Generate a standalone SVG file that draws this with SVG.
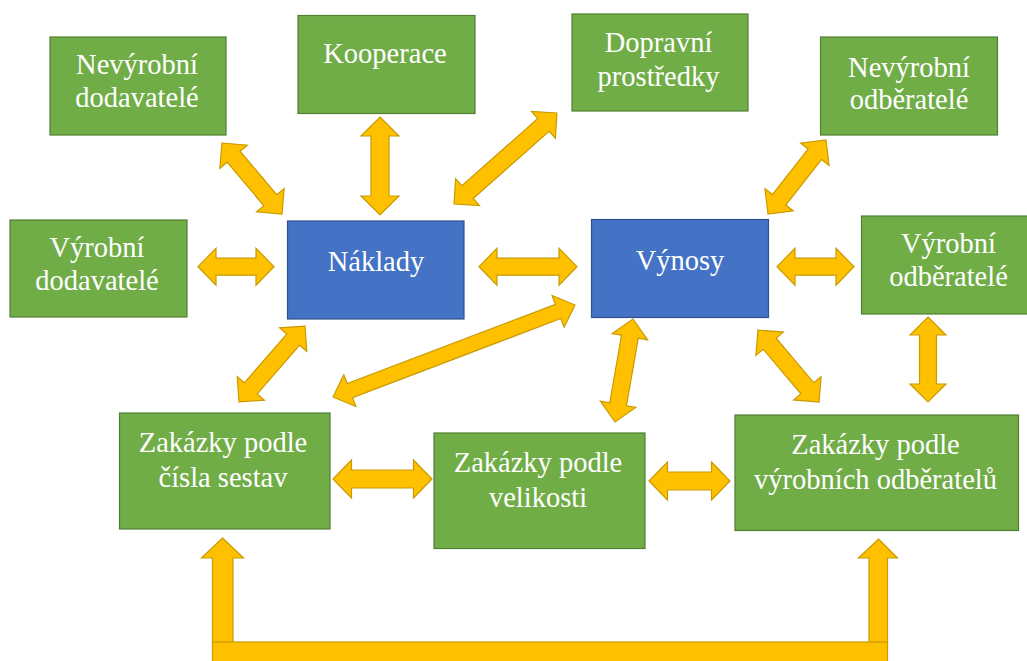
<svg xmlns="http://www.w3.org/2000/svg" width="1027" height="661" viewBox="0 0 1027 661">
  <style>
    .green { fill: #70AD47; stroke: #507E32; stroke-width: 1.2; }
    .blue { fill: #4472C4; stroke: #2F528F; stroke-width: 1.2; }
    .lbl { font-size: 28.5px; fill: #FFFFFF; text-anchor: middle; }
    .arr { fill: #FFC000; stroke: #C89B00; stroke-width: 1.2; stroke-linejoin: miter; }
  </style>
  <rect width="1027" height="661" fill="#FFFFFF"/>

  <!-- connectors: block double arrows -->
  <g id="connectors">
    <!-- Nevýrobní dodavatelé - Náklady -->
    <path class="arr" transform="translate(252,178.5) rotate(49.8)" d="M -46.5 0 L -28.5 -18 L -28.5 -8.5 L 28.5 -8.5 L 28.5 -18 L 46.5 0 L 28.5 18 L 28.5 8.5 L -28.5 8.5 L -28.5 18 Z"/>
    <!-- Výrobní dodavatelé - Náklady -->
    <path class="arr" transform="translate(236,266.7)" d="M -38 0 L -20 -18.5 L -20 -8.5 L 20 -8.5 L 20 -18.5 L 38 0 L 20 18.5 L 20 8.5 L -20 8.5 L -20 18.5 Z"/>
    <!-- Kooperace - Náklady -->
    <path class="arr" transform="translate(380,166) rotate(90)" d="M -49 0 L -30 -19 L -30 -9 L 30 -9 L 30 -19 L 49 0 L 30 19 L 30 9 L -30 9 L -30 19 Z"/>
    <!-- Dopravní prostředky - Náklady -->
    <path class="arr" transform="translate(505.5,158.5) rotate(-41.5)" d="M -68.7 0 L -50.7 -18 L -50.7 -8.5 L 50.7 -8.5 L 50.7 -18 L 68.7 0 L 50.7 18 L 50.7 8.5 L -50.7 8.5 L -50.7 18 Z"/>
    <!-- Náklady - Výnosy -->
    <path class="arr" transform="translate(528,266.7)" d="M -49 0 L -31 -18.5 L -31 -8.5 L 31 -8.5 L 31 -18.5 L 49 0 L 31 18.5 L 31 8.5 L -31 8.5 L -31 18.5 Z"/>
    <!-- Výnosy - Nevýrobní odběratelé -->
    <path class="arr" transform="translate(797,177) rotate(-51.9)" d="M -47 0 L -29 -18 L -29 -8.5 L 29 -8.5 L 29 -18 L 47 0 L 29 18 L 29 8.5 L -29 8.5 L -29 18 Z"/>
    <!-- Výnosy - Výrobní odběratelé -->
    <path class="arr" transform="translate(815.5,266.7)" d="M -38.5 0 L -20.5 -18.5 L -20.5 -8.5 L 20.5 -8.5 L 20.5 -18.5 L 38.5 0 L 20.5 18.5 L 20.5 8.5 L -20.5 8.5 L -20.5 18.5 Z"/>
    <!-- Náklady - Zakázky podle čísla sestav -->
    <path class="arr" transform="translate(272,364) rotate(-49)" d="M -50.3 0 L -32.3 -18 L -32.3 -8.5 L 32.3 -8.5 L 32.3 -18 L 50.3 0 L 32.3 18 L 32.3 8.5 L -32.3 8.5 L -32.3 18 Z"/>
    <!-- Výnosy - Zakázky podle čísla sestav -->
    <path class="arr" transform="translate(454,351) rotate(-20.8)" d="M -129.4 0 L -111.4 -17 L -111.4 -7.5 L 111.4 -7.5 L 111.4 -17 L 129.4 0 L 111.4 17 L 111.4 7.5 L -111.4 7.5 L -111.4 17 Z"/>
    <!-- Výnosy - Zakázky podle velikosti -->
    <path class="arr" transform="translate(624,370.5) rotate(-80.1)" d="M -52.3 0 L -34.3 -18 L -34.3 -8.5 L 34.3 -8.5 L 34.3 -18 L 52.3 0 L 34.3 18 L 34.3 8.5 L -34.3 8.5 L -34.3 18 Z"/>
    <!-- Výnosy - Zakázky podle výrobních odběratelů -->
    <path class="arr" transform="translate(788.5,366) rotate(49.7)" d="M -47.2 0 L -29.2 -18 L -29.2 -8.5 L 29.2 -8.5 L 29.2 -18 L 47.2 0 L 29.2 18 L 29.2 8.5 L -29.2 8.5 L -29.2 18 Z"/>
    <!-- Výrobní odběratelé - Zakázky podle výrobních odběratelů -->
    <path class="arr" transform="translate(928,359.5) rotate(90)" d="M -42.5 0 L -24.5 -18 L -24.5 -8.5 L 24.5 -8.5 L 24.5 -18 L 42.5 0 L 24.5 18 L 24.5 8.5 L -24.5 8.5 L -24.5 18 Z"/>
    <!-- Zakázky podle čísla sestav - Zakázky podle velikosti -->
    <path class="arr" transform="translate(382.5,479)" d="M -49.5 0 L -31 -19 L -31 -9 L 31 -9 L 31 -19 L 49.5 0 L 31 19 L 31 9 L -31 9 L -31 19 Z"/>
    <!-- Zakázky podle velikosti - Zakázky podle výrobních odběratelů -->
    <path class="arr" transform="translate(689.5,481)" d="M -40.5 0 L -22 -19 L -22 -9 L 22 -9 L 22 -19 L 40.5 0 L 22 19 L 22 9 L -22 9 L -22 19 Z"/>
    <!-- bottom loop: two up arrows joined by a bar -->
    <path class="arr" d="M 222.5 538 L 243.5 558 L 233 558 L 233 645 L 212.5 645 L 212.5 558 L 201.5 558 Z"/>
    <path class="arr" d="M 878.5 539 L 897.5 558 L 887.5 558 L 887.5 645 L 869 645 L 869 558 L 858.5 558 Z"/>
    <rect class="arr" x="212.5" y="642" width="675" height="30"/>
  </g>

  <g id="nevyrobni-dodavatele">
    <rect class="green" x="50" y="37" width="176" height="98"/>
    <text class="lbl" font-family="Times New Roman" x="137" y="74">Nevýrobní</text>
    <text class="lbl" font-family="Times New Roman" x="137" y="107">dodavatelé</text>
  </g>
  <g id="kooperace">
    <rect class="green" x="298" y="15.5" width="177" height="98"/>
    <text class="lbl" font-family="Times New Roman" x="385" y="63">Kooperace</text>
  </g>
  <g id="dopravni-prostredky">
    <rect class="green" x="572" y="14" width="176" height="97"/>
    <text class="lbl" font-family="Times New Roman" x="658.5" y="51.5">Dopravní</text>
    <text class="lbl" font-family="Times New Roman" x="658.5" y="86">prostředky</text>
  </g>
  <g id="nevyrobni-odberatele">
    <rect class="green" x="820.5" y="37" width="177" height="98"/>
    <text class="lbl" font-family="Times New Roman" x="909" y="76.5">Nevýrobní</text>
    <text class="lbl" font-family="Times New Roman" x="909" y="109">odběratelé</text>
  </g>
  <g id="vyrobni-dodavatele">
    <rect class="green" x="10" y="220" width="177" height="97"/>
    <text class="lbl" font-family="Times New Roman" x="97" y="256.5">Výrobní</text>
    <text class="lbl" font-family="Times New Roman" x="97" y="290">dodavatelé</text>
  </g>
  <g id="naklady">
    <rect class="blue" x="287.5" y="221" width="176.5" height="98"/>
    <text class="lbl" font-family="Times New Roman" x="376" y="271">Náklady</text>
  </g>
  <g id="vynosy">
    <rect class="blue" x="591.5" y="219.5" width="177" height="98"/>
    <text class="lbl" font-family="Times New Roman" x="680" y="269.5">Výnosy</text>
  </g>
  <g id="vyrobni-odberatele">
    <rect class="green" x="861.5" y="216" width="177" height="98"/>
    <text class="lbl" font-family="Times New Roman" x="948.5" y="252.5">Výrobní</text>
    <text class="lbl" font-family="Times New Roman" x="948.5" y="286">odběratelé</text>
  </g>
  <g id="zakazky-cisla-sestav">
    <rect class="green" x="119.5" y="413" width="210.5" height="116"/>
    <text class="lbl" font-family="Times New Roman" x="223" y="452">Zakázky podle</text>
    <text class="lbl" font-family="Times New Roman" x="223" y="486.5">čísla sestav</text>
  </g>
  <g id="zakazky-velikosti">
    <rect class="green" x="434" y="433" width="211" height="115.5"/>
    <text class="lbl" font-family="Times New Roman" x="538" y="471.5">Zakázky podle</text>
    <text class="lbl" font-family="Times New Roman" x="538" y="506.5">velikosti</text>
  </g>
  <g id="zakazky-vyrobnich-odberatelu">
    <rect class="green" x="735" y="415" width="283.5" height="115.5"/>
    <text class="lbl" font-family="Times New Roman" x="875.5" y="453.5">Zakázky podle</text>
    <text class="lbl" font-family="Times New Roman" x="875.5" y="488.5">výrobních odběratelů</text>
  </g>
</svg>
